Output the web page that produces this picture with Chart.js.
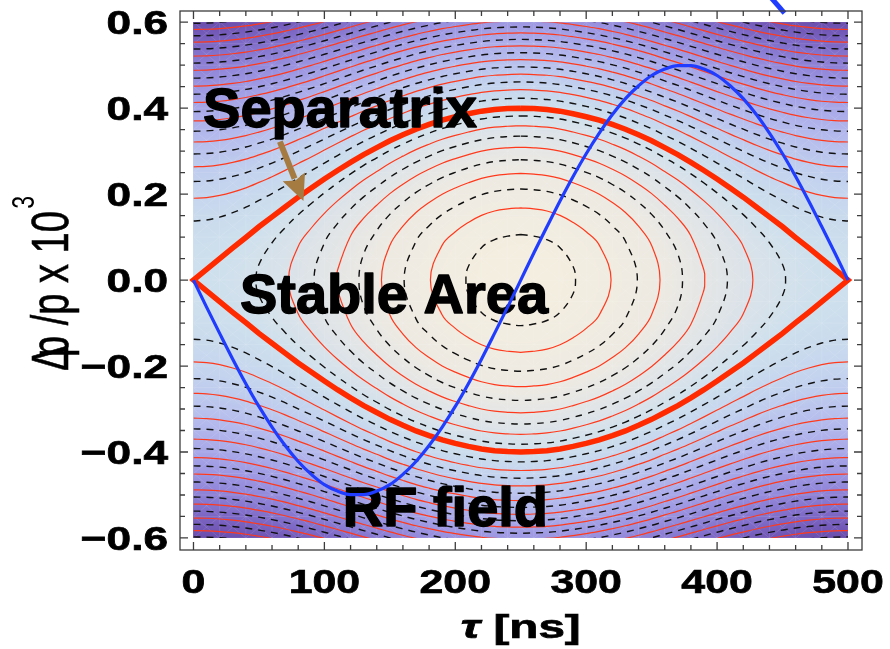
<!DOCTYPE html>
<html>
<head>
<meta charset="utf-8">
<title>RF bucket phase space</title>
<script src="https://cdn.jsdelivr.net/npm/chart.js@4.4.1/dist/chart.umd.min.js"></script>
<style>
    html, body { margin: 0; padding: 0; background: #fff; }
</style>
</head>
<body>
<canvas id="phase-chart" width="890" height="649"></canvas>
<script>
// tau grid [ns]
var tau = [0, 10, 20, 30, 40, 50, 60, 70, 80, 90, 100, 110, 120, 130, 140, 150, 160, 170, 180, 190,
    200, 210, 220, 230, 240, 250, 260, 270, 280, 290, 300, 310, 320, 330, 340, 350, 360, 370, 380, 390,
    400, 410, 420, 430, 440, 450, 460, 470, 480, 490, 500];

// separatrix, upper branch (dp/p x 10^3)
var separatrix = [0, 0.025, 0.050, 0.075, 0.099, 0.124, 0.147, 0.170, 0.193, 0.214, 0.235, 0.255, 0.274,
    0.292, 0.308, 0.324, 0.338, 0.351, 0.362, 0.372, 0.380, 0.387, 0.393, 0.397, 0.399, 0.400,
    0.399, 0.397, 0.393, 0.387, 0.380, 0.372, 0.362, 0.351, 0.338, 0.324, 0.308, 0.292, 0.274,
    0.255, 0.235, 0.214, 0.193, 0.170, 0.147, 0.124, 0.099, 0.075, 0.050, 0.025, 0];

// RF voltage, scaled onto the dp/p axis
var rfField = [0, -0.063, -0.124, -0.184, -0.241, -0.294, -0.342, -0.385, -0.422, -0.452, -0.476, -0.491,
    -0.499, -0.499, -0.491, -0.476, -0.452, -0.422, -0.385, -0.342, -0.294, -0.241, -0.184, -0.124,
    -0.063, 0, 0.063, 0.124, 0.184, 0.241, 0.294, 0.342, 0.385, 0.422, 0.452, 0.476, 0.491, 0.499,
    0.499, 0.491, 0.476, 0.452, 0.422, 0.385, 0.342, 0.294, 0.241, 0.184, 0.124, 0.063, 0];

// piece of the RF curve from the next bucket, sticking out above the frame
var rfTail = [{ x: 437.5, y: 0.67 }, { x: 451.5, y: 0.621 }];

// contour levels, given as dp/p at the bucket centre (tau = 250 ns)
var innerLevels = [0.106, 0.168, 0.212, 0.248, 0.280, 0.309, 0.335, 0.359, 0.382];
var outerLevels = [0.423, 0.443, 0.461, 0.479, 0.496, 0.513, 0.529, 0.545, 0.560, 0.575, 0.589,
    0.603, 0.617, 0.631, 0.644, 0.657, 0.670, 0.683, 0.695, 0.707, 0.719];

var xTicks = [0, 100, 200, 300, 400, 500];
var xTickLabels = ["0", "100", "200", "300", "400", "500"];
var yTicks = [0.6, 0.4, 0.2, 0, -0.2, -0.4, -0.6];
var yTickLabels = ["0.6", "0.4", "0.2", "0.0", "\u22120.2", "\u22120.4", "\u22120.6"];

var RED = "#ff3a1c";
var SEP_RED = "#ff2a00";
var BLUE = "#1f3cff";
var FONT = '"Liberation Sans", Arial, Helvetica, sans-serif';

var sepTop = Math.max.apply(null, separatrix);
var midIndex = separatrix.indexOf(sepTop);

function orbitSquare(level) {
    var d = level * level - sepTop * sepTop;
    return separatrix.map(function (s) { return d + s * s; });
}

// untrapped orbit, one branch (sign = +1 above, -1 below)
function openBranch(level, sign) {
    var q = orbitSquare(level);
    return tau.map(function (t, i) {
        return { x: t, y: sign * Math.sqrt(q[i]) };
    });
}

// trapped orbit as one closed path, starting at the top of the bucket
function closedLoop(level) {
    var q = orbitSquare(level);
    var first = -1, last = -1, i;
    for (i = 0; i < q.length; i++) {
        if (q[i] > 0) { if (first < 0) first = i; last = i; }
    }
    var left = tau[first - 1] + (tau[first] - tau[first - 1]) * (-q[first - 1]) / (q[first] - q[first - 1]);
    var right = tau[last] + (tau[last + 1] - tau[last]) * q[last] / (q[last] - q[last + 1]);
    var pts = [];
    for (i = midIndex; i <= last; i++) pts.push({ x: tau[i], y: Math.sqrt(q[i]) });
    pts.push({ x: right, y: 0 });
    for (i = last; i >= first; i--) pts.push({ x: tau[i], y: -Math.sqrt(q[i]) });
    pts.push({ x: left, y: 0 });
    for (i = first; i <= midIndex; i++) pts.push({ x: tau[i], y: Math.sqrt(q[i]) });
    return pts;
}

// separatrix drawn as one closed path so both tips get a sharp join
function separatrixPath() {
    var pts = [], i;
    for (i = midIndex; i < tau.length; i++) pts.push({ x: tau[i], y: separatrix[i] });
    for (i = tau.length - 2; i >= 0; i--) pts.push({ x: tau[i], y: -separatrix[i] });
    for (i = 1; i <= midIndex; i++) pts.push({ x: tau[i], y: separatrix[i] });
    return pts;
}

function contourStyle(data, dashed, mono) {
    return {
        data: data,
        showLine: true,
        clipData: true,
        borderColor: dashed ? "#111" : RED,
        borderWidth: dashed ? 1.4 : 1.2,
        borderDash: dashed ? [7, 6] : [],
        tension: mono ? 0 : 0.4,
        cubicInterpolationMode: mono ? "monotone" : "default",
        pointRadius: 0
    };
}

var datasets = [
    {
        label: "RF field",
        data: tau.map(function (t, i) { return { x: t, y: rfField[i] }; }),
        showLine: true,
        borderColor: BLUE,
        borderWidth: 3.2,
        cubicInterpolationMode: "monotone",
        pointRadius: 0
    },
    {
        label: "RF field tail",
        data: rfTail,
        showLine: true,
        borderColor: BLUE,
        borderWidth: 5,
        clip: false,
        pointRadius: 0
    },
    {
        label: "Separatrix",
        data: separatrixPath(),
        showLine: true,
        borderColor: SEP_RED,
        borderWidth: 5.5,
        borderJoinStyle: "miter",
        tension: 0,
        pointRadius: 0
    }
];
var SEP_INDEX = 2;

innerLevels.forEach(function (lv, k) {
    datasets.push(contourStyle(closedLoop(lv), k % 2 === 0, false));
});
outerLevels.forEach(function (lv, k) {
    datasets.push(contourStyle(openBranch(lv, 1), k % 2 === 0, true));
    datasets.push(contourStyle(openBranch(lv, -1), k % 2 === 0, true));
});

// colour of the shaded Hamiltonian, by orbit level (dp/p squared units)
var bgStops = [
    [0.00, [244, 238, 224]],
    [0.07, [236, 233, 227]],
    [0.13, [218, 226, 233]],
    [0.16, [206, 224, 237]],
    [0.21, [195, 210, 238]],
    [0.27, [180, 186, 236]],
    [0.33, [165, 163, 231]],
    [0.39, [148, 138, 219]],
    [0.45, [127, 108, 200]],
    [0.52, [106, 76, 172]],
    [0.60, [95, 60, 158]]
];

function colorAt(h) {
    if (h <= bgStops[0][0]) return bgStops[0][1];
    for (var i = 1; i < bgStops.length; i++) {
        if (h <= bgStops[i][0]) {
            var a = bgStops[i - 1], b = bgStops[i];
            var f = (h - a[0]) / (b[0] - a[0]);
            return [a[1][0] + f * (b[1][0] - a[1][0]), a[1][1] + f * (b[1][1] - a[1][1]), a[1][2] + f * (b[1][2] - a[1][2])];
        }
    }
    return bgStops[bgStops.length - 1][1];
}

function sepAt(t) {
    if (t <= tau[0]) return separatrix[0];
    for (var i = 1; i < tau.length; i++) {
        if (t <= tau[i]) {
            var f = (t - tau[i - 1]) / (tau[i] - tau[i - 1]);
            return separatrix[i - 1] + f * (separatrix[i] - separatrix[i - 1]);
        }
    }
    return separatrix[separatrix.length - 1];
}

function dataRect(chart) {
    var xs = chart.scales.x, ys = chart.scales.y;
    var x0 = xs.getPixelForValue(tau[0]), x1 = xs.getPixelForValue(tau[tau.length - 1]);
    var y0 = ys.getPixelForValue(yTicks[0]), y1 = ys.getPixelForValue(yTicks[yTicks.length - 1]);
    return { x: x0, y: y0, w: x1 - x0, h: y1 - y0 };
}

var bgCache = null;
var backgroundPlugin = {
    id: "phaseBackground",
    beforeDatasetsDraw: function (chart) {
        var ctx = chart.ctx, xs = chart.scales.x, ys = chart.scales.y;
        var r = dataRect(chart);
        var w = Math.round(r.w), h = Math.round(r.h);
        if (!bgCache) {
            bgCache = document.createElement("canvas");
            bgCache.width = w;
            bgCache.height = h;
            var octx = bgCache.getContext("2d");
            var img = octx.createImageData(w, h);
            var col = new Float32Array(w);
            for (var i = 0; i < w; i++) {
                var s = sepAt(xs.getValueForPixel(r.x + i + 0.5));
                col[i] = sepTop * sepTop - s * s;
            }
            for (var j = 0; j < h; j++) {
                var p = ys.getValueForPixel(r.y + j + 0.5);
                for (var i2 = 0; i2 < w; i2++) {
                    var c = colorAt(p * p + col[i2]);
                    var o = (j * w + i2) * 4;
                    img.data[o] = c[0];
                    img.data[o + 1] = c[1];
                    img.data[o + 2] = c[2];
                    img.data[o + 3] = 255;
                }
            }
            octx.putImageData(img, 0, 0);
        }
        ctx.save();
        ctx.drawImage(bgCache, Math.round(r.x), Math.round(r.y));
        // faint mesh lines of the shaded surface
        ctx.beginPath();
        ctx.rect(r.x, r.y, r.w, r.h);
        ctx.clip();
        ctx.strokeStyle = "rgba(255,255,255,0.14)";
        ctx.lineWidth = 0.8;
        ctx.beginPath();
        var cw = xs.getPixelForValue(20) - xs.getPixelForValue(0);
        var ch = ys.getPixelForValue(0) - ys.getPixelForValue(0.05);
        for (var gx = r.x; gx <= r.x + r.w + 1; gx += cw) {
            ctx.moveTo(gx, r.y); ctx.lineTo(gx, r.y + r.h);
            for (var gy = r.y; gy <= r.y + r.h; gy += ch) {
                ctx.moveTo(gx, gy); ctx.lineTo(gx + cw, gy + ch);
                ctx.moveTo(gx + cw, gy); ctx.lineTo(gx, gy + ch);
            }
        }
        for (var gy2 = r.y; gy2 <= r.y + r.h + 1; gy2 += ch) {
            ctx.moveTo(r.x, gy2); ctx.lineTo(r.x + r.w, gy2);
        }
        ctx.stroke();
        ctx.restore();
    },
    beforeDatasetDraw: function (chart, args) {
        if (!chart.data.datasets[args.index].clipData) return;
        var r = dataRect(chart);
        chart.ctx.save();
        chart.ctx.beginPath();
        chart.ctx.rect(r.x, r.y, r.w, r.h);
        chart.ctx.clip();
    },
    afterDatasetDraw: function (chart, args) {
        if (chart.data.datasets[args.index].clipData) chart.ctx.restore();
        if (args.index === SEP_INDEX) drawAnnotations(chart);
    }
};

// heavy text: fill plus a thin outline in the same colour
function heavyText(ctx, text, x, y, weight) {
    ctx.fillText(text, x, y);
    ctx.lineWidth = weight;
    ctx.lineJoin = "round";
    ctx.strokeText(text, x, y);
}

function drawAnnotations(chart) {
    var ctx = chart.ctx, xs = chart.scales.x, ys = chart.scales.y;
    ctx.save();
    ctx.fillStyle = "#000";
    ctx.strokeStyle = "#000";
    ctx.font = "bold 56px " + FONT;
    ctx.textAlign = "left";
    ctx.textBaseline = "alphabetic";
    heavyText(ctx, "Separatrix", xs.getPixelForValue(7.3), ys.getPixelForValue(0.355), 1.4);
    heavyText(ctx, "Stable Area", xs.getPixelForValue(35.5), ys.getPixelForValue(-0.076), 1.4);
    heavyText(ctx, "RF field", xs.getPixelForValue(114), ys.getPixelForValue(-0.573), 1.4);

    // arrow from the label down to the separatrix
    var ax = xs.getPixelForValue(66), ay = ys.getPixelForValue(0.322);
    var bx = xs.getPixelForValue(84), by = ys.getPixelForValue(0.184);
    var ang = Math.atan2(by - ay, bx - ax), head = 26, half = 12;
    var hx = bx - head * Math.cos(ang), hy = by - head * Math.sin(ang);
    ctx.strokeStyle = "#a67b42";
    ctx.fillStyle = "#a67b42";
    ctx.lineWidth = 6;
    ctx.beginPath();
    ctx.moveTo(ax, ay);
    ctx.lineTo(hx + 2 * Math.cos(ang), hy + 2 * Math.sin(ang));
    ctx.stroke();
    ctx.beginPath();
    ctx.moveTo(bx, by);
    ctx.lineTo(hx - half * Math.sin(ang), hy + half * Math.cos(ang));
    ctx.lineTo(hx + 4 * Math.cos(ang), hy + 4 * Math.sin(ang));
    ctx.lineTo(hx + half * Math.sin(ang), hy - half * Math.cos(ang));
    ctx.closePath();
    ctx.fill();
    ctx.restore();
}

function stretchedText(ctx, text, x, y, sx, align) {
    ctx.save();
    ctx.translate(x, y);
    ctx.scale(sx, 1);
    ctx.textAlign = align;
    ctx.fillText(text, 0, 0);
    ctx.lineWidth = 0.7;
    ctx.strokeText(text, 0, 0);
    ctx.restore();
}

var framePlugin = {
    id: "frameAxes",
    afterDraw: function (chart) {
        var ctx = chart.ctx, xs = chart.scales.x, ys = chart.scales.y, a = chart.chartArea;
        var v, px, py;
        ctx.save();
        ctx.strokeStyle = "#3c3c3c";
        ctx.lineWidth = 1.3;
        ctx.strokeRect(a.left, a.top, a.right - a.left, a.bottom - a.top);

        // inward ticks on all four sides
        ctx.beginPath();
        for (v = 0; v <= 500; v += 20) {
            px = xs.getPixelForValue(v);
            var lx = v % 100 === 0 ? 8 : 5;
            ctx.moveTo(px, a.bottom); ctx.lineTo(px, a.bottom - lx);
            ctx.moveTo(px, a.top); ctx.lineTo(px, a.top + lx);
        }
        for (var k = -12; k <= 12; k++) {
            py = ys.getPixelForValue(k * 0.05);
            var ly = k % 4 === 0 ? 8 : 5;
            ctx.moveTo(a.left, py); ctx.lineTo(a.left + ly, py);
            ctx.moveTo(a.right, py); ctx.lineTo(a.right - ly, py);
        }
        ctx.stroke();

        // tick labels
        ctx.fillStyle = "#000";
        ctx.strokeStyle = "#000";
        ctx.font = "bold 34px " + FONT;
        ctx.textBaseline = "alphabetic";
        xTicks.forEach(function (t, i) {
            stretchedText(ctx, xTickLabels[i], xs.getPixelForValue(t), a.bottom + 43, 1.26, "center");
        });
        yTicks.forEach(function (t, i) {
            stretchedText(ctx, yTickLabels[i], a.left - 12, ys.getPixelForValue(t) + 12, 1.3, "right");
        });

        // x title: tau [ns]
        var cx = (xs.getPixelForValue(tau[0]) + xs.getPixelForValue(tau[tau.length - 1])) / 2;
        var sx = 1.4;
        ctx.font = "italic bold 34px " + FONT;
        var wT = ctx.measureText("\u03c4").width;
        ctx.font = "bold 34px " + FONT;
        var wR = ctx.measureText(" [ns]").width;
        var x0 = cx - (wT + wR) * sx / 2, base = a.bottom + 88;
        ctx.font = "italic bold 34px " + FONT;
        stretchedText(ctx, "\u03c4", x0, base, sx, "left");
        ctx.font = "bold 34px " + FONT;
        stretchedText(ctx, " [ns]", x0 + wT * sx, base, sx, "left");

        // y title: dp/p x 10^3, written bottom to top
        var yc = ys.getPixelForValue(0);
        ctx.translate(68, yc + 91);
        ctx.rotate(-Math.PI / 2);
        ctx.font = "51px " + FONT;
        var wD = ctx.measureText("\u0394").width;
        var wP = ctx.measureText("p /p x 10").width;
        var k2 = 160 / (wD * 0.55 + wP);
        ctx.scale(k2, 1);
        ctx.textAlign = "left";
        ctx.lineWidth = 0.6;
        ctx.fillText("\u0394", 0, 0);
        ctx.strokeText("\u0394", 0, 0);
        ctx.fillText("p /p x 10", wD * 0.55, 0);
        ctx.strokeText("p /p x 10", wD * 0.55, 0);
        ctx.font = "31px " + FONT;
        ctx.fillText("3", wD * 0.55 + wP + 3, -34);
        ctx.restore();
    }
};

document.addEventListener("DOMContentLoaded", function () {
    var ctx = document.getElementById("phase-chart").getContext("2d");
    new Chart(ctx, {
        type: "scatter",
        data: { datasets: datasets },
        options: {
            responsive: false,
            animation: false,
            events: [],
            layout: { padding: { left: 180, top: 11, right: 28, bottom: 99 } },
            plugins: {
                legend: { display: false },
                tooltip: { enabled: false }
            },
            elements: { point: { radius: 0 } },
            scales: {
                x: { type: "linear", min: -10.3, max: 510.7, display: false },
                y: { type: "linear", min: -0.628, max: 0.626, display: false }
            }
        },
        plugins: [backgroundPlugin, framePlugin]
    });
});
</script>
</body>
</html>
